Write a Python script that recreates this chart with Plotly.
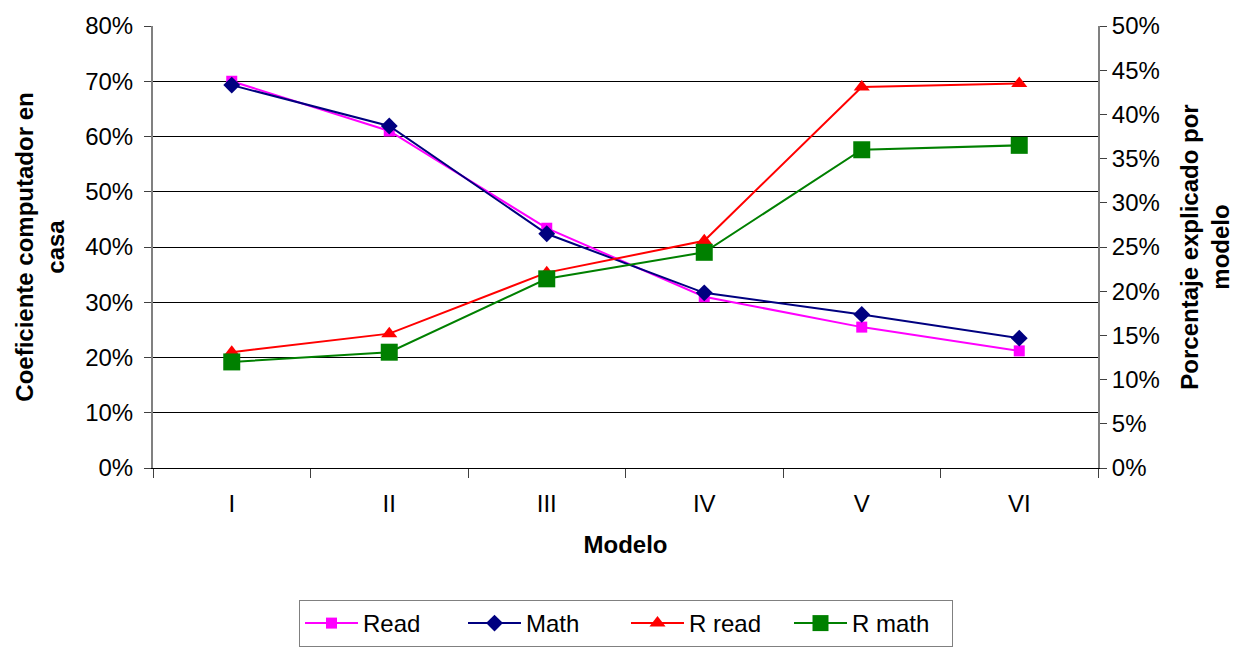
import plotly.graph_objects as go

modelos = ["I", "II", "III", "IV", "V", "VI"]
read = [0.700, 0.610, 0.434, 0.310, 0.255, 0.212]
math = [0.693, 0.619, 0.424, 0.317, 0.278, 0.235]
r_read = [0.131, 0.152, 0.221, 0.257, 0.431, 0.435]
r_math = [0.120, 0.131, 0.214, 0.244, 0.360, 0.365]

FONT = "Liberation Sans, Arial, sans-serif"
FS = 24

fig = go.Figure()
fig.add_trace(go.Scatter(x=modelos, y=read, name="Read", mode="lines+markers",
                         line=dict(color="#FF00FF", width=2),
                         marker=dict(symbol="square", size=11, color="#FF00FF")))
fig.add_trace(go.Scatter(x=modelos, y=math, name="Math", mode="lines+markers",
                         line=dict(color="#000080", width=2),
                         marker=dict(symbol="diamond", size=13, color="#000080")))
fig.add_trace(go.Scatter(x=modelos, y=r_read, name="R read", mode="lines+markers",
                         yaxis="y2",
                         line=dict(color="#FF0000", width=2),
                         marker=dict(symbol="triangle-up", size=14, color="#FF0000")))
fig.add_trace(go.Scatter(x=modelos, y=r_math, name="R math", mode="lines+markers",
                         yaxis="y2",
                         line=dict(color="#008000", width=2),
                         marker=dict(symbol="square", size=17, color="#008000")))

fig.update_layout(
    width=1239, height=649,
    margin=dict(l=153, r=141, t=26, b=181, autoexpand=False),
    paper_bgcolor="white", plot_bgcolor="white",
    font=dict(family=FONT, size=FS, color="black"),
    showlegend=True,
    legend=dict(orientation="h", x=(300 + 952) / 2 / 1239, xanchor="center", xref="container",
                y=(649 - 600) / 649, yanchor="top", yref="container",
                bordercolor="#808080", borderwidth=1, bgcolor="white",
                font=dict(size=FS), itemwidth=53, entrywidth=95, entrywidthmode="pixels",
                tracegroupgap=0),
    xaxis=dict(type="category", tickson="boundaries", ticks="outside", ticklen=9,
               tickcolor="#404040", showline=True, linecolor="#000000", linewidth=1,
               showgrid=False, range=[-0.5, 5.5], automargin=False,
               ticklabelstandoff=14,
               title=dict(text="<b>Modelo</b>", standoff=20, font=dict(size=FS)),
               tickfont=dict(size=FS)),
    yaxis=dict(range=[0, 0.8], dtick=0.1, tickformat=".0%", ticks="outside", ticklen=7,
               tickcolor="#404040", showline=True, linecolor="#808080", linewidth=2,
               showgrid=True, gridcolor="#000000", gridwidth=1, zeroline=False,
               automargin=False, ticklabelstandoff=6,
               title=dict(text="<b>Coeficiente computador en<br>casa</b>", standoff=14,
                          font=dict(size=FS)),
               tickfont=dict(size=FS)),
    yaxis2=dict(range=[0, 0.5], dtick=0.05, tickformat=".0%", overlaying="y", side="right",
                ticks="outside", ticklen=7, tickcolor="#404040", showline=True,
                linecolor="#808080", linewidth=2, showgrid=False, zeroline=False,
                automargin=False,
                title=dict(text="<b>Porcentaje explicado por<br>modelo</b>", standoff=22,
                           font=dict(size=FS)),
                tickfont=dict(size=FS)),
)

fig.write_html("out.html")
